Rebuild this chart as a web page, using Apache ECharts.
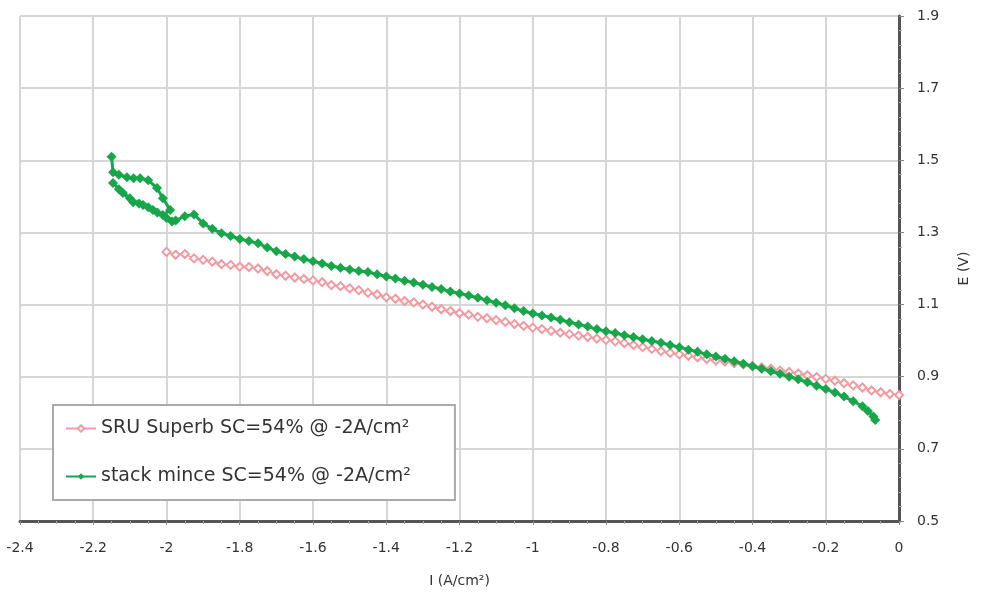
<!DOCTYPE html>
<html>
<head>
<meta charset="utf-8">
<script src="https://cdn.jsdelivr.net/npm/echarts@6/dist/echarts.min.js"></script>
<style>html,body{margin:0;padding:0;background:#fff}#c{width:984px;height:603px}</style>
</head>
<body>
<div id="c"></div>
<script>
const seriesNames = ["SRU Superb SC=54% @ -2A/cm²", "stack mince SC=54% @ -2A/cm²"];
const xTitle = "I (A/cm²)";
const yTitle = "E (V)";

const pinkI = [-2.0,-1.975,-1.95,-1.925,-1.9,-1.875,-1.85,-1.825,-1.8,-1.775,-1.75,-1.725,-1.7,-1.675,-1.65,-1.625,-1.6,-1.575,-1.55,-1.525,-1.5,-1.475,-1.45,-1.425,-1.4,-1.375,-1.35,-1.325,-1.3,-1.275,-1.25,-1.225,-1.2,-1.175,-1.15,-1.125,-1.1,-1.075,-1.05,-1.025,-1.0,-0.975,-0.95,-0.925,-0.9,-0.875,-0.85,-0.825,-0.8,-0.775,-0.75,-0.725,-0.7,-0.675,-0.65,-0.625,-0.6,-0.575,-0.55,-0.525,-0.5,-0.475,-0.45,-0.425,-0.4,-0.375,-0.35,-0.325,-0.3,-0.275,-0.25,-0.225,-0.2,-0.175,-0.15,-0.125,-0.1,-0.075,-0.05,-0.025,0.0];
const pinkE = [1.246,1.238,1.240,1.228,1.224,1.219,1.212,1.210,1.205,1.204,1.200,1.193,1.184,1.180,1.175,1.171,1.167,1.162,1.154,1.151,1.145,1.140,1.133,1.128,1.120,1.116,1.110,1.106,1.100,1.094,1.087,1.082,1.076,1.072,1.066,1.062,1.057,1.052,1.046,1.041,1.036,1.032,1.027,1.022,1.018,1.014,1.010,1.006,1.002,0.998,0.993,0.988,0.982,0.977,0.971,0.966,0.962,0.958,0.954,0.949,0.945,0.942,0.938,0.934,0.930,0.926,0.922,0.917,0.913,0.909,0.904,0.899,0.894,0.889,0.882,0.876,0.870,0.862,0.857,0.852,0.849];

const greenI = [-2.15,-2.146,-2.13,-2.108,-2.09,-2.072,-2.05,-2.026,-2.01,-1.99,-2.01,-2.037,-2.064,-2.091,-2.119,-2.146,-2.13,-2.1,-2.075,-2.05,-2.025,-2.0,-1.985,-1.975,-1.95,-1.925,-1.9,-1.875,-1.85,-1.825,-1.8,-1.775,-1.75,-1.725,-1.7,-1.675,-1.65,-1.625,-1.6,-1.575,-1.55,-1.525,-1.5,-1.475,-1.45,-1.425,-1.4,-1.375,-1.35,-1.325,-1.3,-1.275,-1.25,-1.225,-1.2,-1.175,-1.15,-1.125,-1.1,-1.075,-1.05,-1.025,-1.0,-0.975,-0.95,-0.925,-0.9,-0.875,-0.85,-0.825,-0.8,-0.775,-0.75,-0.725,-0.7,-0.675,-0.65,-0.625,-0.6,-0.575,-0.55,-0.525,-0.5,-0.475,-0.45,-0.425,-0.4,-0.375,-0.35,-0.325,-0.3,-0.275,-0.25,-0.225,-0.2,-0.175,-0.15,-0.125,-0.1,-0.085,-0.07,-0.065];
const greenE = [1.510,1.467,1.460,1.453,1.450,1.450,1.445,1.423,1.395,1.362,1.348,1.362,1.376,1.384,1.409,1.437,1.420,1.395,1.380,1.370,1.355,1.340,1.330,1.333,1.345,1.350,1.325,1.310,1.298,1.290,1.282,1.276,1.270,1.258,1.248,1.240,1.233,1.226,1.220,1.214,1.207,1.202,1.197,1.193,1.190,1.184,1.178,1.172,1.166,1.161,1.155,1.149,1.143,1.136,1.131,1.125,1.119,1.112,1.105,1.098,1.090,1.082,1.075,1.070,1.064,1.058,1.051,1.045,1.039,1.032,1.026,1.021,1.015,1.010,1.004,0.999,0.994,0.988,0.982,0.975,0.969,0.962,0.956,0.950,0.943,0.936,0.929,0.922,0.915,0.908,0.900,0.893,0.885,0.875,0.866,0.856,0.845,0.832,0.818,0.805,0.790,0.780];

const pinkColor = '#f29aa2';
const greenColor = '#17a64a';

const chart = echarts.init(document.getElementById('c'), null, {renderer: 'canvas'});
const fnt = 'DejaVu Sans, Liberation Sans, sans-serif';
chart.setOption({
  animation: false,
  backgroundColor: '#fff',
  grid: {left: 20, right: 85, top: 16, bottom: 82, containLabel: false},
  xAxis: {
    type: 'value', min: -2.4, max: 0, interval: 0.2,
    name: xTitle, nameLocation: 'middle', nameGap: 53,
    nameTextStyle: {color: '#333', fontSize: 14, fontFamily: fnt},
    axisLine: {show: true, onZero: false, lineStyle: {color: '#555', width: 3}},
    axisTick: {show: true, length: 4, lineStyle: {color: '#888'}},
    minorTick: {show: true, splitNumber: 4, length: 3, lineStyle: {color: '#aaa'}},
    axisLabel: {color: '#333', fontSize: 14, fontFamily: fnt, margin: 20,
      formatter: v => String(Math.round(v * 10) / 10)},
    splitLine: {show: true, lineStyle: {color: '#d6d6d6', width: 2}}
  },
  yAxis: {
    type: 'value', position: 'right', min: 0.5, max: 1.9, interval: 0.2,
    name: yTitle, nameLocation: 'middle', nameGap: 58, nameRotate: 90,
    nameTextStyle: {color: '#333', fontSize: 14, fontFamily: fnt},
    axisLine: {show: true, onZero: false, lineStyle: {color: '#555', width: 3}},
    axisTick: {show: true, length: 5, lineStyle: {color: '#888'}},
    minorTick: {show: true, splitNumber: 5, length: 3, lineStyle: {color: '#aaa'}},
    axisLabel: {color: '#333', fontSize: 14, fontFamily: fnt, margin: 18,
      formatter: v => (Math.round(v * 10) / 10).toFixed(1)},
    splitLine: {show: true, lineStyle: {color: '#d6d6d6', width: 2}}
  },
  legend: {
    left: 53, top: 405, orient: 'vertical',
    padding: [14, 44, 14, 12], itemGap: 29,
    borderColor: '#aaa', borderWidth: 2, backgroundColor: '#fff',
    itemWidth: 30, itemHeight: 8,
    textStyle: {color: '#333', fontSize: 19, fontFamily: fnt},
    data: seriesNames
  },
  series: [
    {
      name: seriesNames[0], type: 'line',
      data: pinkI.map((x, i) => [x, pinkE[i]]),
      symbol: 'emptyDiamond', symbolSize: 8,
      lineStyle: {color: pinkColor, width: 1.5},
      itemStyle: {color: pinkColor, borderColor: pinkColor, borderWidth: 1.5},
      z: 2
    },
    {
      name: seriesNames[1], type: 'line',
      data: greenI.map((x, i) => [x, greenE[i]]),
      symbol: 'diamond', symbolSize: 10,
      lineStyle: {color: greenColor, width: 3},
      itemStyle: {color: greenColor},
      z: 3
    }
  ]
});
</script>
</body>
</html>
